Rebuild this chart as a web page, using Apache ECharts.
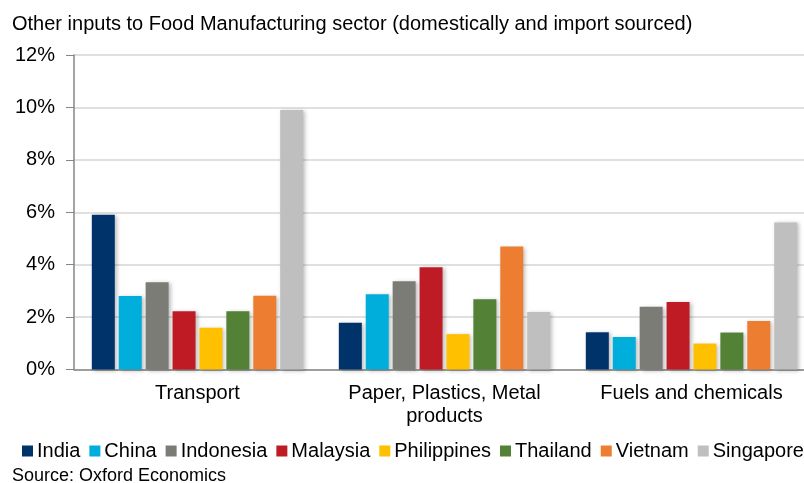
<!doctype html>
<html lang="en">
<head>
<meta charset="utf-8" />
<title>Other inputs to Food Manufacturing sector</title>
<script src="https://cdn.jsdelivr.net/npm/echarts@6/dist/echarts.min.js"></script>
<style>
  html, body { margin: 0; padding: 0; background: #fff; }
  #chart { width: 804px; height: 483px; }
</style>
</head>
<body>
<div id="chart"></div>
<script>
// categories and series (values in %)
const categories = ['Transport', 'Paper, Plastics, Metal\nproducts', 'Fuels and chemicals'];
const countries = ['India', 'China', 'Indonesia', 'Malaysia', 'Philippines', 'Thailand', 'Vietnam', 'Singapore'];
const colors = ['#00336A', '#00AEDB', '#7C7C76', '#BE1B24', '#FFC000', '#538135', '#ED7D31', '#BFBFBF'];
const india = [5.9, 1.78, 1.42];
const china = [2.8, 2.87, 1.24];
const indonesia = [3.33, 3.37, 2.39];
const malaysia = [2.22, 3.9, 2.58];
const philippines = [1.59, 1.35, 0.99];
const thailand = [2.22, 2.68, 1.41];
const vietnam = [2.81, 4.69, 1.85];
const singapore = [9.9, 2.19, 5.61];
const seriesValues = [india, china, indonesia, malaysia, philippines, thailand, vietnam, singapore];
const yTicks = [0, 2, 4, 6, 8, 10, 12];

const font = 'Liberation Sans, Arial, sans-serif';
const chart = echarts.init(document.getElementById('chart'));

chart.setOption({
  animation: false,
  textStyle: { fontFamily: font },
  title: [
    {
      text: 'Other inputs to Food Manufacturing sector (domestically and import sourced)',
      left: 12, top: 14, padding: 0,
      textStyle: { fontSize: 20, fontWeight: 'normal', color: '#000', fontFamily: font }
    },
    {
      text: 'Source: Oxford Economics',
      left: 12, top: 467, padding: 0,
      textStyle: { fontSize: 18, fontWeight: 'normal', color: '#000', fontFamily: font }
    }
  ],
  legend: {
    data: countries,
    left: 22, top: 441, padding: 0,
    itemWidth: 11, itemHeight: 11, itemGap: 9,
    icon: 'rect',
    textStyle: { fontSize: 20, color: '#000', fontFamily: font, padding: [0, 0, 0, -1] }
  },
  grid: { left: 74, right: -11, top: 55, bottom: 113.5, outerBoundsMode: 'none', containLabel: false },
  xAxis: {
    type: 'category',
    data: categories,
    axisTick: { show: false },
    axisLine: { lineStyle: { color: '#868686', width: 1.5 } },
    axisLabel: {
      interval: 0, hideOverlap: false,
      fontSize: 20, color: '#000', margin: 12, lineHeight: 23.5, fontFamily: font
    }
  },
  yAxis: {
    type: 'value',
    min: yTicks[0], max: yTicks[yTicks.length - 1], interval: 2,
    axisLine: { show: true, lineStyle: { color: '#868686', width: 1.5 } },
    axisTick: { show: true, length: 8, lineStyle: { color: '#868686' } },
    splitLine: { lineStyle: { color: '#D9D6D4', width: 1.5 } },
    axisLabel: { fontSize: 20, color: '#000', margin: 19, formatter: v => v + '%', fontFamily: font }
  },
  series: countries.map((name, i) => ({
    name: name,
    type: 'bar',
    data: seriesValues[i],
    barWidth: 23,
    barGap: '17%',
    itemStyle: {
      color: colors[i],
      shadowBlur: 4, shadowColor: 'rgba(0,0,0,0.25)', shadowOffsetX: 2, shadowOffsetY: 1
    }
  }))
});
</script>
</body>
</html>
